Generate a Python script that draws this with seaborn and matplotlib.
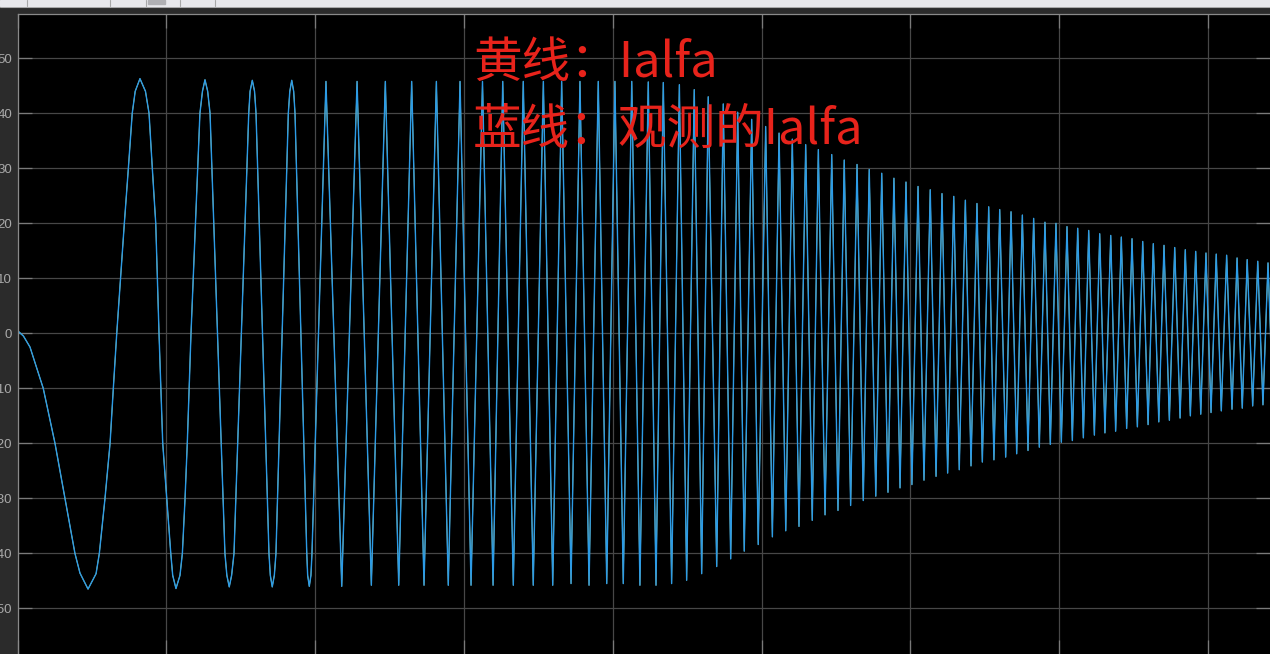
import pandas as pd
import seaborn as sns
import matplotlib.pyplot as plt
from matplotlib.patches import Rectangle
from matplotlib.lines import Line2D

# time (s) and Ialfa values
# first cycles: extra points so the wide swings keep their shape
t_start = [0.000, 0.040, 0.084, 0.173, 0.252, 0.319, 0.386, 0.420, 0.474, 0.528,
           0.550, 0.588, 0.622, 0.644, 0.667, 0.718, 0.745, 0.771, 0.791, 0.823,
           0.860, 0.884, 0.906, 0.929, 0.951, 0.976, 1.003, 1.030, 1.043, 1.065,
           1.092, 1.108, 1.126, 1.141, 1.166, 1.226, 1.243, 1.260, 1.278, 1.294,
           1.394, 1.407, 1.423, 1.439, 1.455, 1.554, 1.563, 1.578, 1.593, 1.603,
           1.690, 1.699, 1.712, 1.726, 1.737, 1.820, 1.830, 1.843, 1.856, 1.865,
           1.944, 1.950, 1.961, 1.972, 1.979]
v_start = [0.5, -0.5, -2.5, -10, -20, -30, -40, -43.6, -46.5, -43.7,
           -40, -30, -20, -10, 0, 20, 30, 40, 44, 46.3,
           44, 40, 30, 20, 0, -20, -30, -40, -44, -46.4,
           -44, -40, -30, -20, 0, 40, 44, 46.1, 44, 40,
           -40, -44, -46.1, -44, -40, 40, 44, 46.0, 44, 40,
           -40, -44, -46.1, -44, -40, 40, 44, 46.0, 44, 40,
           -40, -44, -46.0, -44, -40]

# after that: alternating peak / trough of each swing
t_ext = [2.073, 2.179, 2.282, 2.378, 2.472, 2.562, 2.649, 2.732, 2.815, 2.895,
         2.974, 3.048, 3.125, 3.196, 3.261, 3.332, 3.399, 3.466, 3.534, 3.597,
         3.657, 3.720, 3.780, 3.841, 3.903, 3.960, 4.015, 4.071, 4.128, 4.183,
         4.239, 4.291, 4.340, 4.396, 4.448, 4.497, 4.548, 4.598, 4.642, 4.699,
         4.743, 4.793, 4.840, 4.884, 4.934, 4.978, 5.028, 5.073, 5.118, 5.163,
         5.207, 5.252, 5.297, 5.341, 5.382, 5.427, 5.472, 5.514, 5.556, 5.599,
         5.642, 5.684, 5.724, 5.768, 5.808, 5.850, 5.890, 5.931, 5.971, 6.011,
         6.052, 6.092, 6.134, 6.173, 6.213, 6.251, 6.292, 6.329, 6.370, 6.408,
         6.448, 6.484, 6.527, 6.562, 6.601, 6.641, 6.677, 6.715, 6.753, 6.791,
         6.829, 6.867, 6.905, 6.941, 6.979, 7.015, 7.053, 7.089, 7.125, 7.163,
         7.199, 7.237, 7.273, 7.308, 7.347, 7.380, 7.418, 7.454, 7.490, 7.526,
         7.562, 7.598, 7.633, 7.670, 7.705, 7.741, 7.777, 7.813, 7.848, 7.882,
         7.918, 7.952, 7.987, 8.021, 8.056, 8.090, 8.126, 8.162, 8.196, 8.231,
         8.264, 8.301, 8.335, 8.370, 8.404, 8.437]
v_ext = [45.8, -46.0, 45.8, -45.8, 45.8, -45.8, 45.8, -45.8, 45.8, -45.8,
         45.8, -45.8, 45.8, -45.8, 45.8, -45.8, 45.8, -45.8, 45.8, -45.8,
         45.8, -45.5, 45.8, -45.8, 45.8, -45.5, 45.8, -45.5, 45.8, -45.8,
         45.7, -45.8, 45.6, -45.5, 45.2, -44.9, 44.3, -43.7, 43.0, -42.4,
         41.7, -41.0, 40.2, -39.6, 38.9, -38.4, 37.6, -37.0, 36.4, -35.9,
         35.3, -35.1, 34.3, -34.0, 33.4, -33.0, 32.5, -32.2, 31.5, -31.3,
         30.7, -30.4, 29.8, -29.6, 29.1, -28.9, 28.2, -28.1, 27.5, -27.5,
         26.7, -26.7, 26.1, -26.0, 25.4, -25.4, 24.9, -24.8, 24.2, -24.1,
         23.6, -23.4, 23.0, -23.0, 22.5, -22.5, 22.1, -21.9, 21.5, -21.3,
         20.9, -20.7, 20.2, -20.2, 20.0, -19.8, 19.4, -19.5, 19.1, -19.0,
         18.7, -18.5, 18.1, -18.1, 17.8, -17.8, 17.5, -17.3, 17.2, -17.0,
         16.7, -16.6, 16.3, -16.1, 16.0, -15.8, 15.6, -15.4, 15.2, -15.0,
         14.9, -14.7, 14.6, -14.4, 14.4, -14.1, 14.2, -13.8, 13.7, -13.6,
         13.4, -13.2, 13.1, -13.0, 12.8, -12.7]

y_ticks = [-50, -40, -30, -20, -10, 0, 10, 20, 30, 40, 50]
x_ticks = [0, 1, 2, 3, 4, 5, 6, 7, 8]
label_yellow = "黄线：Ialfa"
label_blue = "蓝线：观测的Ialfa"

df = pd.DataFrame({"t": t_start + t_ext, "ialfa": v_start + v_ext})

sns.set_theme(style="ticks")
plt.rcParams["font.family"] = ["Liberation Sans", "DejaVu Sans"]

W, H = 1270, 654
fig = plt.figure(figsize=(W / 100, H / 100), dpi=100, facecolor="#2b2b2b")
ax = fig.add_axes([17.5 / W, 0, 1 - 17.5 / W, (H - 14.3) / H])
ax.set_facecolor("black")

# yellow (Ialfa) sits under the blue (observed Ialfa) trace
sns.lineplot(data=df, x="t", y="ialfa", sort=False, estimator=None,
             color="#e3e35a", lw=0.6, ax=ax)
sns.lineplot(data=df, x="t", y="ialfa", sort=False, estimator=None,
             color="#2c9be6", lw=1.0, ax=ax)

ax.set_yticks(y_ticks)
ax.set_xticks(x_ticks)
ax.set_xlim(0, (W - 17.5) / 148.8)
ax.set_ylim(-58.3, 58.0)
ax.set_xlabel("")
ax.set_ylabel("")
ax.grid(True, color="#474747", lw=0.9)
ax.tick_params(direction="in", length=10, width=0.9, color="#7a7a7a",
               labelcolor="#a9a9a9", labelsize=9.5, pad=4,
               top=True, right=True, labelbottom=False)
for side in ["left", "top"]:
    ax.spines[side].set_color("#8a8a8a")
    ax.spines[side].set_linewidth(0.9)
for side in ["right", "bottom"]:
    ax.spines[side].set_visible(False)

# annotation text
red = "#e8231b"
cjk = ["Noto Sans CJK SC", "DejaVu Sans"]
fig.text(473 / W, 1 - 77 / H, label_yellow, color=red, fontsize=35,
         family=cjk, va="baseline", ha="left")
fig.text(473 / W, 1 - 143.5 / H, label_blue, color=red, fontsize=35,
         family=cjk, va="baseline", ha="left")

# window toolbar strip at the top
fig.patches.append(Rectangle((0, 1 - 6 / H), 1, 6 / H, transform=fig.transFigure,
                             color="#e8e8ec", zorder=5))
fig.lines.append(Line2D([0, 1], [1 - 6.5 / H, 1 - 6.5 / H], transform=fig.transFigure,
                        color="#9a9a9a", lw=0.8, zorder=5))
fig.patches.append(Rectangle((148 / W, 1 - 4 / H), 17 / W, 4 / H,
                             transform=fig.transFigure, color="#b0b0b4", zorder=6))
for xs in [27, 110, 146, 180, 215]:
    fig.lines.append(Line2D([xs / W, xs / W], [1 - 6 / H, 1], transform=fig.transFigure,
                            color="#a8a8a8", lw=0.8, zorder=6))

fig.savefig("out.png", dpi=100, facecolor=fig.get_facecolor())
